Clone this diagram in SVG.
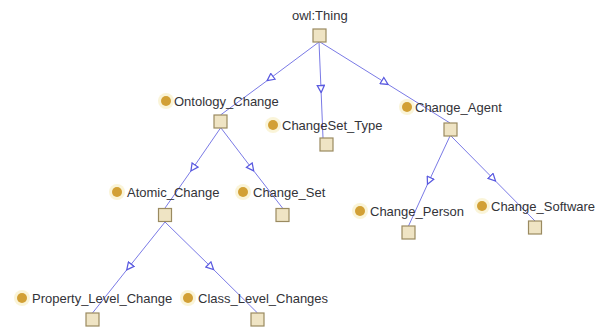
<svg xmlns="http://www.w3.org/2000/svg" width="595" height="331" viewBox="0 0 595 331">
<style>
  .lbl { font-family: "Liberation Sans", Arial, sans-serif; font-size: 13px; fill: #333338; }
  .box { fill: #efe4c4; stroke: #9a8a60; stroke-width: 1.2; }
  .dot { fill: #d2a035; }
  .halo { fill: #f4e6a8; opacity: 0.45; }
  .edge { fill: none; stroke: #7a7ae6; stroke-width: 1; marker-mid: url(#tri); }
</style>
<defs>
  <marker id="tri" viewBox="0 0 10 10" refX="5" refY="5" markerWidth="9" markerHeight="9" markerUnits="userSpaceOnUse" orient="auto">
    <path d="M1,1 L9,5 L1,9 z" fill="#ffffff" stroke="#5a5ae0" stroke-width="1.4"/>
  </marker>
</defs>
<rect width="595" height="331" fill="#ffffff"/>
<g id="connectors">
  <polyline class="edge" points="319,42 270,78.5 220.5,115"/>
  <polyline class="edge" points="319,42 321,89 323,138"/>
  <polyline class="edge" points="320,42 385,82.5 450,123"/>
  <polyline class="edge" points="220.5,128 193,168 165,208"/>
  <polyline class="edge" points="221,128 251.5,168 282.5,208"/>
  <polyline class="edge" points="165,222 129,267 92.5,313"/>
  <polyline class="edge" points="165,222 211,267 257.5,313"/>
  <polyline class="edge" points="450,136 429,181 408.5,226"/>
  <polyline class="edge" points="451,136 493,178.5 535,221"/>
</g>
<g id="owl_Thing">
  <text class="lbl" x="292" y="19.5">owl:Thing</text>
  <rect class="box" x="313" y="29" width="13" height="13"/>
</g>
<g id="Ontology_Change">
  <circle class="halo" cx="166" cy="101" r="8"/>
  <circle class="dot" cx="166" cy="101" r="5"/>
  <text class="lbl" x="174" y="105.5">Ontology_Change</text>
  <rect class="box" x="214" y="115" width="13" height="13"/>
</g>
<g id="ChangeSet_Type">
  <circle class="halo" cx="273" cy="125" r="8"/>
  <circle class="dot" cx="273" cy="125" r="5"/>
  <text class="lbl" x="282" y="129.5">ChangeSet_Type</text>
  <rect class="box" x="320" y="138" width="13" height="13"/>
</g>
<g id="Change_Agent">
  <circle class="halo" cx="407" cy="107" r="8"/>
  <circle class="dot" cx="407" cy="107" r="5"/>
  <text class="lbl" x="415" y="111.5">Change_Agent</text>
  <rect class="box" x="444" y="123" width="13" height="13"/>
</g>
<g id="Atomic_Change">
  <circle class="halo" cx="117" cy="192" r="8"/>
  <circle class="dot" cx="117" cy="192" r="5"/>
  <text class="lbl" x="127" y="196.5">Atomic_Change</text>
  <rect class="box" x="158.5" y="208.5" width="13" height="13"/>
</g>
<g id="Change_Set">
  <circle class="halo" cx="243" cy="192" r="8"/>
  <circle class="dot" cx="243" cy="192" r="5"/>
  <text class="lbl" x="253" y="196.5">Change_Set</text>
  <rect class="box" x="276" y="208.5" width="13" height="13"/>
</g>
<g id="Change_Person">
  <circle class="halo" cx="360" cy="211" r="8"/>
  <circle class="dot" cx="360" cy="211" r="5"/>
  <text class="lbl" x="370" y="215.5">Change_Person</text>
  <rect class="box" x="402" y="226" width="13" height="13"/>
</g>
<g id="Change_Software">
  <circle class="halo" cx="482" cy="206" r="8"/>
  <circle class="dot" cx="482" cy="206" r="5"/>
  <text class="lbl" x="491" y="210.5">Change_Software</text>
  <rect class="box" x="528.5" y="221" width="13" height="13"/>
</g>
<g id="Property_Level_Change">
  <circle class="halo" cx="22" cy="298" r="8"/>
  <circle class="dot" cx="22" cy="298" r="5"/>
  <text class="lbl" x="32" y="302.5">Property_Level_Change</text>
  <rect class="box" x="86" y="313" width="13" height="13"/>
</g>
<g id="Class_Level_Changes">
  <circle class="halo" cx="188" cy="298" r="8"/>
  <circle class="dot" cx="188" cy="298" r="5"/>
  <text class="lbl" x="198" y="302.5">Class_Level_Changes</text>
  <rect class="box" x="251" y="313" width="13" height="13"/>
</g>
</svg>
